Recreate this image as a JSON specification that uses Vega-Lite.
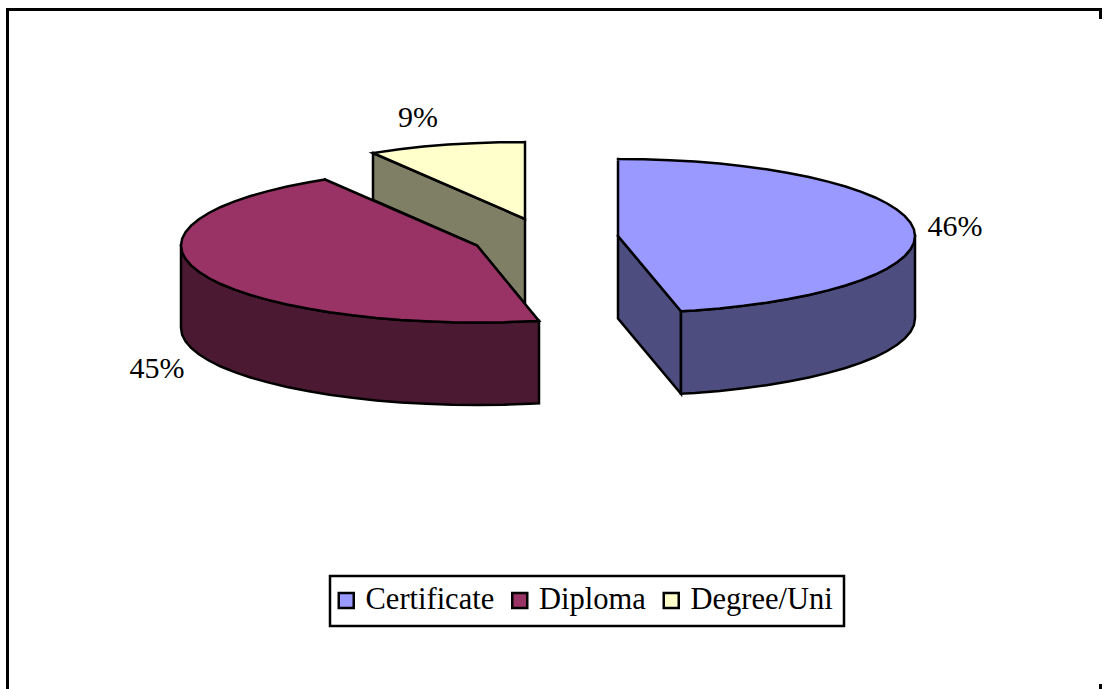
{"$schema":"https://vega.github.io/schema/vega-lite/v6.json","width":1106,"height":689,"autosize":"none","padding":0,"background":"white","config":{"view":{"stroke":null}},
"datasets":{"shapes":[
{"part":"Degree/Uni side","i":1,"x":373,"y":153},{"part":"Degree/Uni side","i":2,"x":525,"y":219},{"part":"Degree/Uni side","i":3,"x":525,"y":304},{"part":"Degree/Uni side","i":4,"x":477,"y":245.5},{"part":"Degree/Uni side","i":5,"x":373,"y":200},{"part":"Degree/Uni side","i":6,"x":373,"y":153},
{"part":"Degree/Uni","i":1,"x":525,"y":142},{"part":"Degree/Uni","i":2,"x":499.1,"y":142.3},{"part":"Degree/Uni","i":3,"x":473.4,"y":143.2},{"part":"Degree/Uni","i":4,"x":448.1,"y":144.6},{"part":"Degree/Uni","i":5,"x":423.4,"y":146.6},{"part":"Degree/Uni","i":6,"x":399.5,"y":149.2},{"part":"Degree/Uni","i":7,"x":373,"y":153},{"part":"Degree/Uni","i":8,"x":525,"y":219},{"part":"Degree/Uni","i":9,"x":525,"y":142},
{"part":"Diploma side","i":1,"x":181,"y":245.5},{"part":"Diploma side","i":2,"x":182.1,"y":252.2},{"part":"Diploma side","i":3,"x":185.5,"y":258.9},{"part":"Diploma side","i":4,"x":191.1,"y":265.4},{"part":"Diploma side","i":5,"x":198.9,"y":271.8},{"part":"Diploma side","i":6,"x":208.8,"y":278},{"part":"Diploma side","i":7,"x":220.8,"y":284},{"part":"Diploma side","i":8,"x":234.7,"y":289.7},{"part":"Diploma side","i":9,"x":250.5,"y":295},{"part":"Diploma side","i":10,"x":268,"y":299.9},{"part":"Diploma side","i":11,"x":287.1,"y":304.5},{"part":"Diploma side","i":12,"x":307.6,"y":308.6},{"part":"Diploma side","i":13,"x":329.5,"y":312.2},{"part":"Diploma side","i":14,"x":352.5,"y":315.3},{"part":"Diploma side","i":15,"x":376.4,"y":317.9},{"part":"Diploma side","i":16,"x":401.1,"y":319.9},{"part":"Diploma side","i":17,"x":426.4,"y":321.3},{"part":"Diploma side","i":18,"x":452.1,"y":322.2},{"part":"Diploma side","i":19,"x":478,"y":322.5},{"part":"Diploma side","i":20,"x":503.9,"y":322.2},{"part":"Diploma side","i":21,"x":529.6,"y":321.3},{"part":"Diploma side","i":22,"x":539,"y":320.9},
{"part":"Diploma side","i":23,"x":539,"y":403.4},{"part":"Diploma side","i":24,"x":529.6,"y":403.8},{"part":"Diploma side","i":25,"x":503.9,"y":404.7},{"part":"Diploma side","i":26,"x":478,"y":405},{"part":"Diploma side","i":27,"x":452.1,"y":404.7},{"part":"Diploma side","i":28,"x":426.4,"y":403.8},{"part":"Diploma side","i":29,"x":401.1,"y":402.4},{"part":"Diploma side","i":30,"x":376.4,"y":400.4},{"part":"Diploma side","i":31,"x":352.5,"y":397.8},{"part":"Diploma side","i":32,"x":329.5,"y":394.7},{"part":"Diploma side","i":33,"x":307.6,"y":391.1},{"part":"Diploma side","i":34,"x":287.1,"y":387},{"part":"Diploma side","i":35,"x":268,"y":382.4},{"part":"Diploma side","i":36,"x":250.5,"y":377.5},{"part":"Diploma side","i":37,"x":234.7,"y":372.2},{"part":"Diploma side","i":38,"x":220.8,"y":366.5},{"part":"Diploma side","i":39,"x":208.8,"y":360.5},{"part":"Diploma side","i":40,"x":198.9,"y":354.3},{"part":"Diploma side","i":41,"x":191.1,"y":347.9},{"part":"Diploma side","i":42,"x":185.5,"y":341.4},{"part":"Diploma side","i":43,"x":182.1,"y":334.7},{"part":"Diploma side","i":44,"x":181,"y":328},{"part":"Diploma side","i":45,"x":181,"y":245.5},
{"part":"Diploma","i":1,"x":325,"y":179.5},{"part":"Diploma","i":2,"x":307.6,"y":182.4},{"part":"Diploma","i":3,"x":287.1,"y":186.5},{"part":"Diploma","i":4,"x":268,"y":191.1},{"part":"Diploma","i":5,"x":250.5,"y":196},{"part":"Diploma","i":6,"x":234.7,"y":201.3},{"part":"Diploma","i":7,"x":220.8,"y":207},{"part":"Diploma","i":8,"x":208.8,"y":213},{"part":"Diploma","i":9,"x":198.9,"y":219.2},{"part":"Diploma","i":10,"x":191.1,"y":225.6},{"part":"Diploma","i":11,"x":185.5,"y":232.1},{"part":"Diploma","i":12,"x":182.1,"y":238.8},{"part":"Diploma","i":13,"x":181,"y":245.5},{"part":"Diploma","i":14,"x":182.1,"y":252.2},{"part":"Diploma","i":15,"x":185.5,"y":258.9},{"part":"Diploma","i":16,"x":191.1,"y":265.4},{"part":"Diploma","i":17,"x":198.9,"y":271.8},{"part":"Diploma","i":18,"x":208.8,"y":278},{"part":"Diploma","i":19,"x":220.8,"y":284},{"part":"Diploma","i":20,"x":234.7,"y":289.7},{"part":"Diploma","i":21,"x":250.5,"y":295},{"part":"Diploma","i":22,"x":268,"y":299.9},{"part":"Diploma","i":23,"x":287.1,"y":304.5},{"part":"Diploma","i":24,"x":307.6,"y":308.6},{"part":"Diploma","i":25,"x":329.5,"y":312.2},{"part":"Diploma","i":26,"x":352.5,"y":315.3},{"part":"Diploma","i":27,"x":376.4,"y":317.9},{"part":"Diploma","i":28,"x":401.1,"y":319.9},{"part":"Diploma","i":29,"x":426.4,"y":321.3},{"part":"Diploma","i":30,"x":452.1,"y":322.2},{"part":"Diploma","i":31,"x":478,"y":322.5},{"part":"Diploma","i":32,"x":503.9,"y":322.2},{"part":"Diploma","i":33,"x":529.6,"y":321.3},{"part":"Diploma","i":34,"x":539,"y":320.9},{"part":"Diploma","i":35,"x":477,"y":245.5},{"part":"Diploma","i":36,"x":325,"y":179.5},
{"part":"Certificate side","i":1,"x":618,"y":236},{"part":"Certificate side","i":2,"x":681,"y":311.2},{"part":"Certificate side","i":3,"x":681,"y":393.7},{"part":"Certificate side","i":4,"x":618,"y":318.5},{"part":"Certificate side","i":5,"x":618,"y":236},
{"part":"Certificate outer","i":1,"x":915,"y":236},{"part":"Certificate outer","i":2,"x":913.9,"y":242.7},{"part":"Certificate outer","i":3,"x":910.5,"y":249.4},{"part":"Certificate outer","i":4,"x":904.9,"y":255.9},{"part":"Certificate outer","i":5,"x":897.1,"y":262.3},{"part":"Certificate outer","i":6,"x":887.2,"y":268.5},{"part":"Certificate outer","i":7,"x":875.2,"y":274.5},{"part":"Certificate outer","i":8,"x":861.3,"y":280.2},{"part":"Certificate outer","i":9,"x":845.5,"y":285.5},{"part":"Certificate outer","i":10,"x":828,"y":290.4},{"part":"Certificate outer","i":11,"x":808.9,"y":295},{"part":"Certificate outer","i":12,"x":788.4,"y":299.1},{"part":"Certificate outer","i":13,"x":766.5,"y":302.7},{"part":"Certificate outer","i":14,"x":743.5,"y":305.8},{"part":"Certificate outer","i":15,"x":719.6,"y":308.4},{"part":"Certificate outer","i":16,"x":694.9,"y":310.4},{"part":"Certificate outer","i":17,"x":681,"y":311.2},{"part":"Certificate outer","i":18,"x":681,"y":393.7},{"part":"Certificate outer","i":19,"x":694.9,"y":392.9},{"part":"Certificate outer","i":20,"x":719.6,"y":390.9},{"part":"Certificate outer","i":21,"x":743.5,"y":388.3},{"part":"Certificate outer","i":22,"x":766.5,"y":385.2},{"part":"Certificate outer","i":23,"x":788.4,"y":381.6},{"part":"Certificate outer","i":24,"x":808.9,"y":377.5},{"part":"Certificate outer","i":25,"x":828,"y":372.9},{"part":"Certificate outer","i":26,"x":845.5,"y":368},{"part":"Certificate outer","i":27,"x":861.3,"y":362.7},{"part":"Certificate outer","i":28,"x":875.2,"y":357},{"part":"Certificate outer","i":29,"x":887.2,"y":351},{"part":"Certificate outer","i":30,"x":897.1,"y":344.8},{"part":"Certificate outer","i":31,"x":904.9,"y":338.4},{"part":"Certificate outer","i":32,"x":910.5,"y":331.9},{"part":"Certificate outer","i":33,"x":913.9,"y":325.2},{"part":"Certificate outer","i":34,"x":915,"y":318.5},{"part":"Certificate outer","i":35,"x":915,"y":236},
{"part":"Certificate","i":1,"x":618,"y":159},{"part":"Certificate","i":2,"x":643.9,"y":159.3},{"part":"Certificate","i":3,"x":669.6,"y":160.2},{"part":"Certificate","i":4,"x":694.9,"y":161.6},{"part":"Certificate","i":5,"x":719.6,"y":163.6},{"part":"Certificate","i":6,"x":743.5,"y":166.2},{"part":"Certificate","i":7,"x":766.5,"y":169.3},{"part":"Certificate","i":8,"x":788.4,"y":172.9},{"part":"Certificate","i":9,"x":808.9,"y":177},{"part":"Certificate","i":10,"x":828,"y":181.6},{"part":"Certificate","i":11,"x":845.5,"y":186.5},{"part":"Certificate","i":12,"x":861.3,"y":191.8},{"part":"Certificate","i":13,"x":875.2,"y":197.5},{"part":"Certificate","i":14,"x":887.2,"y":203.5},{"part":"Certificate","i":15,"x":897.1,"y":209.7},{"part":"Certificate","i":16,"x":904.9,"y":216.1},{"part":"Certificate","i":17,"x":910.5,"y":222.6},{"part":"Certificate","i":18,"x":913.9,"y":229.3},{"part":"Certificate","i":19,"x":915,"y":236},{"part":"Certificate","i":20,"x":913.9,"y":242.7},{"part":"Certificate","i":21,"x":910.5,"y":249.4},{"part":"Certificate","i":22,"x":904.9,"y":255.9},{"part":"Certificate","i":23,"x":897.1,"y":262.3},{"part":"Certificate","i":24,"x":887.2,"y":268.5},{"part":"Certificate","i":25,"x":875.2,"y":274.5},{"part":"Certificate","i":26,"x":861.3,"y":280.2},{"part":"Certificate","i":27,"x":845.5,"y":285.5},{"part":"Certificate","i":28,"x":828,"y":290.4},{"part":"Certificate","i":29,"x":808.9,"y":295},{"part":"Certificate","i":30,"x":788.4,"y":299.1},{"part":"Certificate","i":31,"x":766.5,"y":302.7},{"part":"Certificate","i":32,"x":743.5,"y":305.8},{"part":"Certificate","i":33,"x":719.6,"y":308.4},{"part":"Certificate","i":34,"x":694.9,"y":310.4},{"part":"Certificate","i":35,"x":681,"y":311.2},{"part":"Certificate","i":36,"x":618,"y":236},{"part":"Certificate","i":37,"x":618,"y":159}
],
"labels":[{"label":"46%","x":955,"y":226.5},{"label":"45%","x":157,"y":369},{"label":"9%","x":418,"y":118}],
"frame":[{"seg":"left","i":1,"x":7.5,"y":8},{"seg":"left","i":2,"x":7.5,"y":689},{"seg":"top","i":1,"x":6,"y":9.5},{"seg":"top","i":2,"x":1102,"y":9.5},{"seg":"right","i":1,"x":1100.5,"y":8},{"seg":"right","i":2,"x":1100.5,"y":19},{"seg":"corner","i":1,"x":1100.5,"y":684},{"seg":"corner","i":2,"x":1100.5,"y":689}],
"box":[{"x":330,"x2":844,"y":576,"y2":626}]},
"layer":[
{"data":{"name":"frame"},"mark":{"type":"line","stroke":"black","strokeWidth":3,"strokeCap":"butt","clip":false},"encoding":{"x":{"field":"x","type":"quantitative","scale":{"domain":[0,1106],"nice":false,"zero":false},"axis":null},"y":{"field":"y","type":"quantitative","scale":{"domain":[689,0],"nice":false,"zero":false},"axis":null},"detail":{"field":"seg"},"order":{"field":"i"}}},
{"data":{"name":"box"},"mark":{"type":"rect","fill":"white","stroke":"black","strokeWidth":2.5},"encoding":{"x":{"field":"x","type":"quantitative"},"x2":{"field":"x2"},"y":{"field":"y","type":"quantitative"},"y2":{"field":"y2"}}},
{"data":{"name":"shapes"},"mark":{"type":"line","stroke":"black","strokeWidth":2.5,"strokeJoin":"miter","strokeMiterLimit":10,"strokeCap":"square"},"encoding":{"x":{"field":"x","type":"quantitative"},"y":{"field":"y","type":"quantitative"},"order":{"field":"i"},"fill":{"field":"part","type":"nominal","scale":{"domain":["Certificate","Diploma","Degree/Uni","Certificate side","Certificate outer","Diploma side","Degree/Uni side"],"range":["#9999FF","#993366","#FFFFCC","#4D4D7F","#4D4D7F","#4C1933","#7F7F66"]},"legend":{"values":["Certificate","Diploma","Degree/Uni"],"title":null,"orient":"none","legendX":325,"legendY":579,"direction":"horizontal","symbolType":"square","symbolSize":225,"symbolStrokeColor":"black","symbolStrokeWidth":2.5,"labelFont":"Liberation Serif","labelFontSize":30.5,"labelColor":"black","labelLimit":300,"labelOffset":4,"columnPadding":9.5,"padding":6}}}},
{"data":{"name":"labels"},"mark":{"type":"text","font":"Liberation Serif","fontSize":30,"color":"black","baseline":"middle","align":"center"},"encoding":{"x":{"field":"x","type":"quantitative"},"y":{"field":"y","type":"quantitative"},"text":{"field":"label"}}}
]}
